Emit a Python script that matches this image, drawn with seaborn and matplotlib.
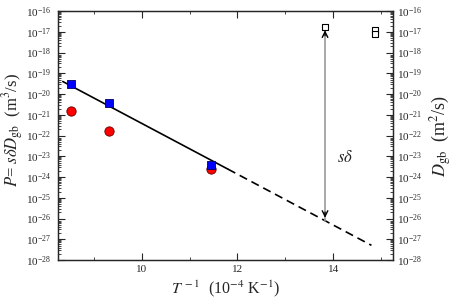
import numpy as np
import pandas as pd
import matplotlib
matplotlib.use("Agg")
import matplotlib.pyplot as plt
import seaborn as sns
from matplotlib.ticker import LogLocator, NullFormatter, MultipleLocator

# data
inv_T = [8.52, 9.32, 11.45]
P_blue = [2.9e-20, 3.8e-21, 3.8e-24]
P_red = [1.6e-21, 1.6e-22, 2.5e-24]

fit_solid_x = [8.35, 11.8]
fit_solid_y = [4.0e-20, 2.4e-24]
fit_dash_x = [11.8, 14.8]
fit_dash_y = [2.4e-24, 5.1e-28]

open_x = [13.83, 14.87, 14.87]
open_y = [1.7e-17, 1.2e-17, 7.5e-18]

arrow_x = 13.83
arrow_top = 1.6e-17
arrow_bot = 7.9e-27

sns.set_style("ticks")
plt.rcParams["font.family"] = ["Liberation Serif", "DejaVu Serif"]
plt.rcParams["mathtext.fontset"] = "stix"

fig = plt.figure(figsize=(4.55, 3.0), dpi=100)
ax = fig.add_axes([0.1275, 0.1333, 0.7362, 0.83])

ax.set_yscale("log")
sns.lineplot(x=fit_solid_x, y=fit_solid_y, ax=ax, color="black", lw=1.2)
sns.lineplot(x=fit_dash_x, y=fit_dash_y, ax=ax, color="black", lw=1.2,
             linestyle=(0, (5, 3)))
sns.scatterplot(x=inv_T, y=P_red, ax=ax, marker="o", color="red",
                edgecolor="#600000", linewidth=0.6, s=45, zorder=5)
sns.scatterplot(x=inv_T, y=P_blue, ax=ax, marker="s", color="blue",
                edgecolor="#000060", linewidth=0.6, s=32, zorder=6)
sns.scatterplot(x=open_x, y=open_y, ax=ax, marker="s", facecolor="white",
                edgecolor="black", linewidth=0.8, s=16, zorder=6)

# s-delta arrow
ax.plot([arrow_x, arrow_x], [arrow_top, arrow_bot], color="0.6", lw=1.2, zorder=3)
ax.annotate("", xy=(arrow_x, arrow_top), xytext=(arrow_x, arrow_top * 3e-1),
            arrowprops=dict(arrowstyle="->", color="black", lw=1.0), zorder=4)
ax.annotate("", xy=(arrow_x, arrow_bot), xytext=(arrow_x, arrow_bot * 3.5),
            arrowprops=dict(arrowstyle="->", color="black", lw=1.0), zorder=4)
ax.text(14.24, 8.3e-24, r"$s\delta$", fontsize=12, ha="center", va="center")

ax.set_xlim(8.25, 15.25)
ax.set_ylim(1e-28, 1e-16)
ax.xaxis.set_major_locator(MultipleLocator(2))
ax.xaxis.set_minor_locator(MultipleLocator(1))
ax.yaxis.set_major_locator(LogLocator(base=10, numticks=20))
ax.yaxis.set_minor_locator(LogLocator(base=10, subs=np.arange(2, 10), numticks=20))
ax.yaxis.set_minor_formatter(NullFormatter())
ax.tick_params(axis="both", which="major", direction="in", length=5, width=0.8,
               top=True, right=False, labelsize=8)
ax.tick_params(axis="y", which="major", pad=5)
ax.tick_params(axis="both", which="minor", direction="in", length=2.5, width=0.6,
               top=True, right=False)

ax.set_xlabel(r"$T^{\,-1}$  (10$^{-4}$ K$^{-1}$)", fontsize=11.5)
ax.xaxis.set_label_coords(0.5, -0.075)
ax.set_ylabel(r"$P$= $s\delta D_{\rm gb}$  (m$^3$/s)", fontsize=12)
ax.yaxis.set_label_coords(-0.095, 0.52)

ax2 = ax.twinx()
ax2.set_yscale("log")
ax2.set_ylim(1e-28, 1e-16)
ax2.yaxis.set_major_locator(LogLocator(base=10, numticks=20))
ax2.yaxis.set_minor_locator(LogLocator(base=10, subs=np.arange(2, 10), numticks=20))
ax2.yaxis.set_minor_formatter(NullFormatter())
ax2.tick_params(axis="y", which="major", direction="in", length=5, width=0.8,
                labelsize=8, pad=3)
ax2.tick_params(axis="y", which="minor", direction="in", length=2.5, width=0.6)
ax2.set_ylabel(r"$D_{\rm gb}$  (m$^2$/s)", fontsize=13, labelpad=4)

for a in (ax, ax2):
    for sp in a.spines.values():
        sp.set_linewidth(0.9)
        sp.set_visible(True)

fig.savefig("out.png", dpi=100)
